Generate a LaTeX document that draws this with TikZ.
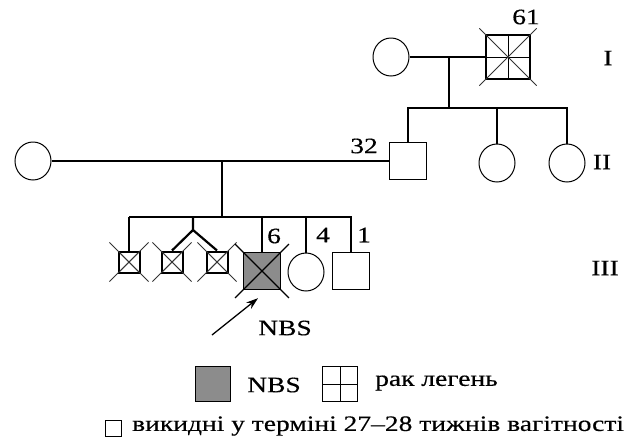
\documentclass[tikz,border=0pt]{standalone}
\usepackage{fontspec}
\setmainfont{Liberation Serif}[FakeStretch=1.25,FakeBold=0.4]
\usetikzlibrary{shapes.geometric,calc,arrows.meta}
\begin{document}
\begin{tikzpicture}[x=1pt,y=-1pt,
  male/.style={draw, rectangle, minimum size=37pt, inner sep=0pt, line width=1.2pt},
  female/.style={draw, ellipse, minimum width=36pt, minimum height=38pt, inner sep=0pt, line width=1pt},
  small/.style={draw, rectangle, minimum size=21pt, inner sep=0pt, line width=2pt,
     path picture={\draw[line width=0.7pt] (path picture bounding box.north west) -- (path picture bounding box.south east)
       (path picture bounding box.north east) -- (path picture bounding box.south west);}},
  grid/.style={path picture={\draw[line width=0.9pt] (path picture bounding box.north) -- (path picture bounding box.south)
       (path picture bounding box.west) -- (path picture bounding box.east);}},
  nbs/.style={fill=black!45},
  lbl/.style={inner sep=1pt, font=\fontsize{22}{26}\selectfont},
  ped/.style={line width=2.2pt},
  thin/.style={line width=1.1pt},
  xline/.style={line width=0.9pt, black!80}
]
\useasboundingbox (0,0) rectangle (639,445);

% generation I
\node[female] (i1) at (391,57) {};
\node[male, minimum size=44pt, line width=2.2pt, grid] (i2) at (508,57) {};
\draw[xline] ($(i2.north west)!-0.12!(i2.south east)$) -- ($(i2.south east)!-0.12!(i2.north west)$);
\draw[xline] ($(i2.north east)!-0.12!(i2.south west)$) -- ($(i2.south west)!-0.12!(i2.north east)$);
\node[lbl] (l61) at (526,17) {61};
\draw[ped] (i1.east) -- (i2.west);
\coordinate (m1) at (449,57);
\coordinate (s1) at (449,108);
\draw[ped] (m1) -- (s1);

% generation II
\node[female] (ii0) at (33,161) {};
\node[male, line width=1.5pt] (ii1) at (408,161) {};
\node[female] (ii2) at (497,163) {};
\node[female] (ii3) at (567,163) {};
\node[lbl] (l32) at (364,146) {32};
\coordinate (b1) at (408,108);
\coordinate (b3) at (567,108);
\draw[ped] (s1) -- (b1) -- (ii1.north);
\draw[thin] (s1) -- (b3) -- (ii3.north);
\draw[thin] (ii2.north) -- (ii2.north |- b1);
\draw[ped] (ii0.east) -- (ii1.west);
\coordinate (m2) at (222,161);
\coordinate (s2) at (222,217);
\draw[ped] (m2) -- (s2);

% generation III
\node[small] (a1) at (129,262) {};
\node[small] (a2) at (172,262) {};
\node[small] (a3) at (217,262) {};
\node[male, nbs, line width=1.4pt] (p) at (262,271) {};
\node[female] (c4) at (306,272) {};
\node[male] (c1) at (351,271) {};
\foreach \n in {a1,a2,a3}{
  \draw[xline] ($(\n.north west)!-0.35!(\n.south east)$) -- ($(\n.south east)!-0.35!(\n.north west)$);
  \draw[xline] ($(\n.north east)!-0.35!(\n.south west)$) -- ($(\n.south west)!-0.35!(\n.north east)$);
}
\draw[line width=1.2pt] ($(p.north west)!-0.2!(p.south east)$) -- ($(p.south east)!-0.2!(p.north west)$);
\draw[line width=1.2pt] ($(p.north east)!-0.2!(p.south west)$) -- ($(p.south west)!-0.2!(p.north east)$);

\coordinate (t1) at (129,217);
\coordinate (t2) at (193,217);
\coordinate (tw) at (193,230);
\coordinate (t3) at (262,217);
\draw[ped] (t1) -- (t3);
\draw[ped] (t1) -- (a1.north);
\draw[ped] (t2) -- (tw) -- (a2.north);
\draw[ped] (tw) -- (a3.north);
\draw[ped] (t3) -- (p.north);
\draw[thin] (t3) -- (c1.north |- t3) -- (c1.north);
\draw[thin] (c4.north) -- (c4.north |- t3);

\node[lbl] (l6) at (274,236) {6};
\node[lbl] (l4) at (323,235) {4};
\node[lbl] (l1) at (364,235) {1};
\node[lbl] (lnbs) at (285,328) {NBS};
\coordinate (arr) at (212,335);
\draw[line width=1.3pt, -{Stealth[length=12pt,width=8pt]}] (arr) -- ($(p.south)+(-4,8)$);

% roman numerals
\node[lbl] (g1) at (608,58) {I};
\node[lbl] (g2) at (602,162) {II};
\node[lbl] (g3) at (605,268) {III};

% legend
\node[draw, rectangle, minimum size=35pt, inner sep=0pt, line width=1.2pt, nbs] (k1) at (213,384) {};
\node[lbl] (k1t) at (274,385) {NBS};
\node[draw, rectangle, minimum size=35pt, inner sep=0pt, line width=1.2pt, grid] (k2) at (340,384) {};
\node[lbl, anchor=west] (k2t) at (374,383) {рак легень};
\node[draw, rectangle, minimum size=16pt, inner sep=0pt, line width=1pt] (k3) at (113,428) {};
\node[lbl, anchor=west] (k3t) at (131,426) {викидні у терміні 27–28 тижнів вагітності};
\end{tikzpicture}
\end{document}
